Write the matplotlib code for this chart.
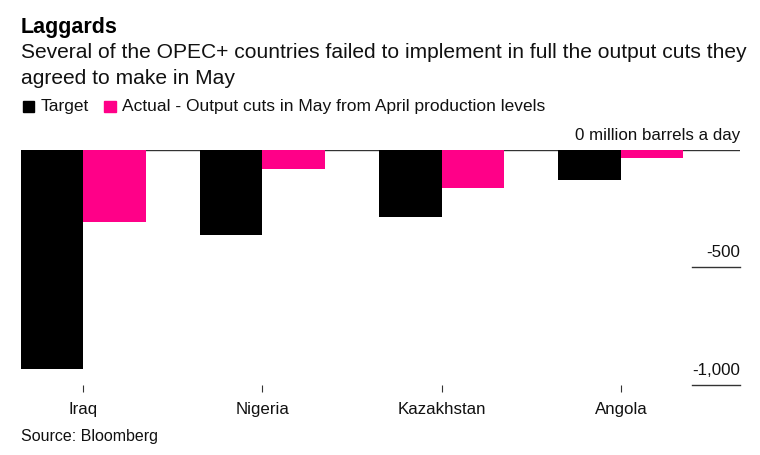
import matplotlib
matplotlib.use('Agg')
import matplotlib.pyplot as plt
from matplotlib.patches import Rectangle

plt.rcParams['font.family'] = ['Liberation Sans', 'DejaVu Sans']

countries = ['Iraq', 'Nigeria', 'Kazakhstan', 'Angola']
target = [-932, -363, -287, -129]
actual = [-308, -83, -163, -36]
y_ticks = [0, -500, -1000]
y_labels = ['0 million barrels a day', '-500', '-1,000']

W, H = 760, 455
fig = plt.figure(figsize=(W / 100, H / 100), dpi=100)
ax = fig.add_axes([21 / W, 1 - 385 / H, (740 - 21) / W, (385 - 149.5) / H])

width = 0.3486
xs = list(range(len(countries)))
ax.bar([x - width / 2 for x in xs], target, width, color='black', zorder=3)
ax.bar([x + width / 2 for x in xs], actual, width, color='#ff0088', zorder=3)

ax.set_xlim(-0.346, 3.664)
ax.set_ylim(-1000, 0)
for s in ax.spines.values():
    s.set_visible(False)

# category ticks sit below the plot area
ax.set_xticks(xs)
ax.set_xticklabels(countries, fontsize=12.2)
ax.tick_params(axis='x', length=5, width=0.8, color='#333333', pad=7, labelcolor='#111111')
ax.tick_params(axis='y', left=False, labelleft=False)

# horizontal rules, labels stacked above them on the right
ax.axhline(0, color='#333333', lw=1, zorder=2)
for v, lab in zip(y_ticks, y_labels):
    if v != 0:
        ax.plot([0.9333, 1], [v, v], transform=ax.get_yaxis_transform(), color='#333333',
                lw=1, clip_on=False)
    ax.annotate(lab, xy=(1, v), xycoords=ax.get_yaxis_transform(), xytext=(0, 5),
                textcoords='offset points', ha='right', va='bottom', fontsize=12.2,
                color='#111111', annotation_clip=False)

fig.text(21 / W, 1 - 28 / H, 'Laggards', fontsize=15.5, fontweight='bold', va='center', color='black')
fig.text(21 / W, 1 - 53 / H, 'Several of the OPEC+ countries failed to implement in full the output cuts they',
         fontsize=15.1, va='center', color='#111111')
fig.text(21 / W, 1 - 79 / H, 'agreed to make in May', fontsize=15.1, va='center', color='#111111')

# legend built by hand so the swatches line up with the reference
fig.add_artist(Rectangle((23 / W, 1 - 112 / H), 11 / W, 11 / H, transform=fig.transFigure, color='black'))
fig.text(41 / W, 1 - 106 / H, 'Target', fontsize=12.5, va='center', color='#111111')
fig.add_artist(Rectangle((104 / W, 1 - 112 / H), 12 / W, 11 / H, transform=fig.transFigure, color='#ff0088'))
fig.text(122 / W, 1 - 106 / H, 'Actual - Output cuts in May from April production levels', fontsize=12.5,
         va='center', color='#111111')

fig.text(21 / W, 1 - 437 / H, 'Source: Bloomberg', fontsize=11.5, va='center', color='#111111')

fig.savefig('out.png', dpi=100)
